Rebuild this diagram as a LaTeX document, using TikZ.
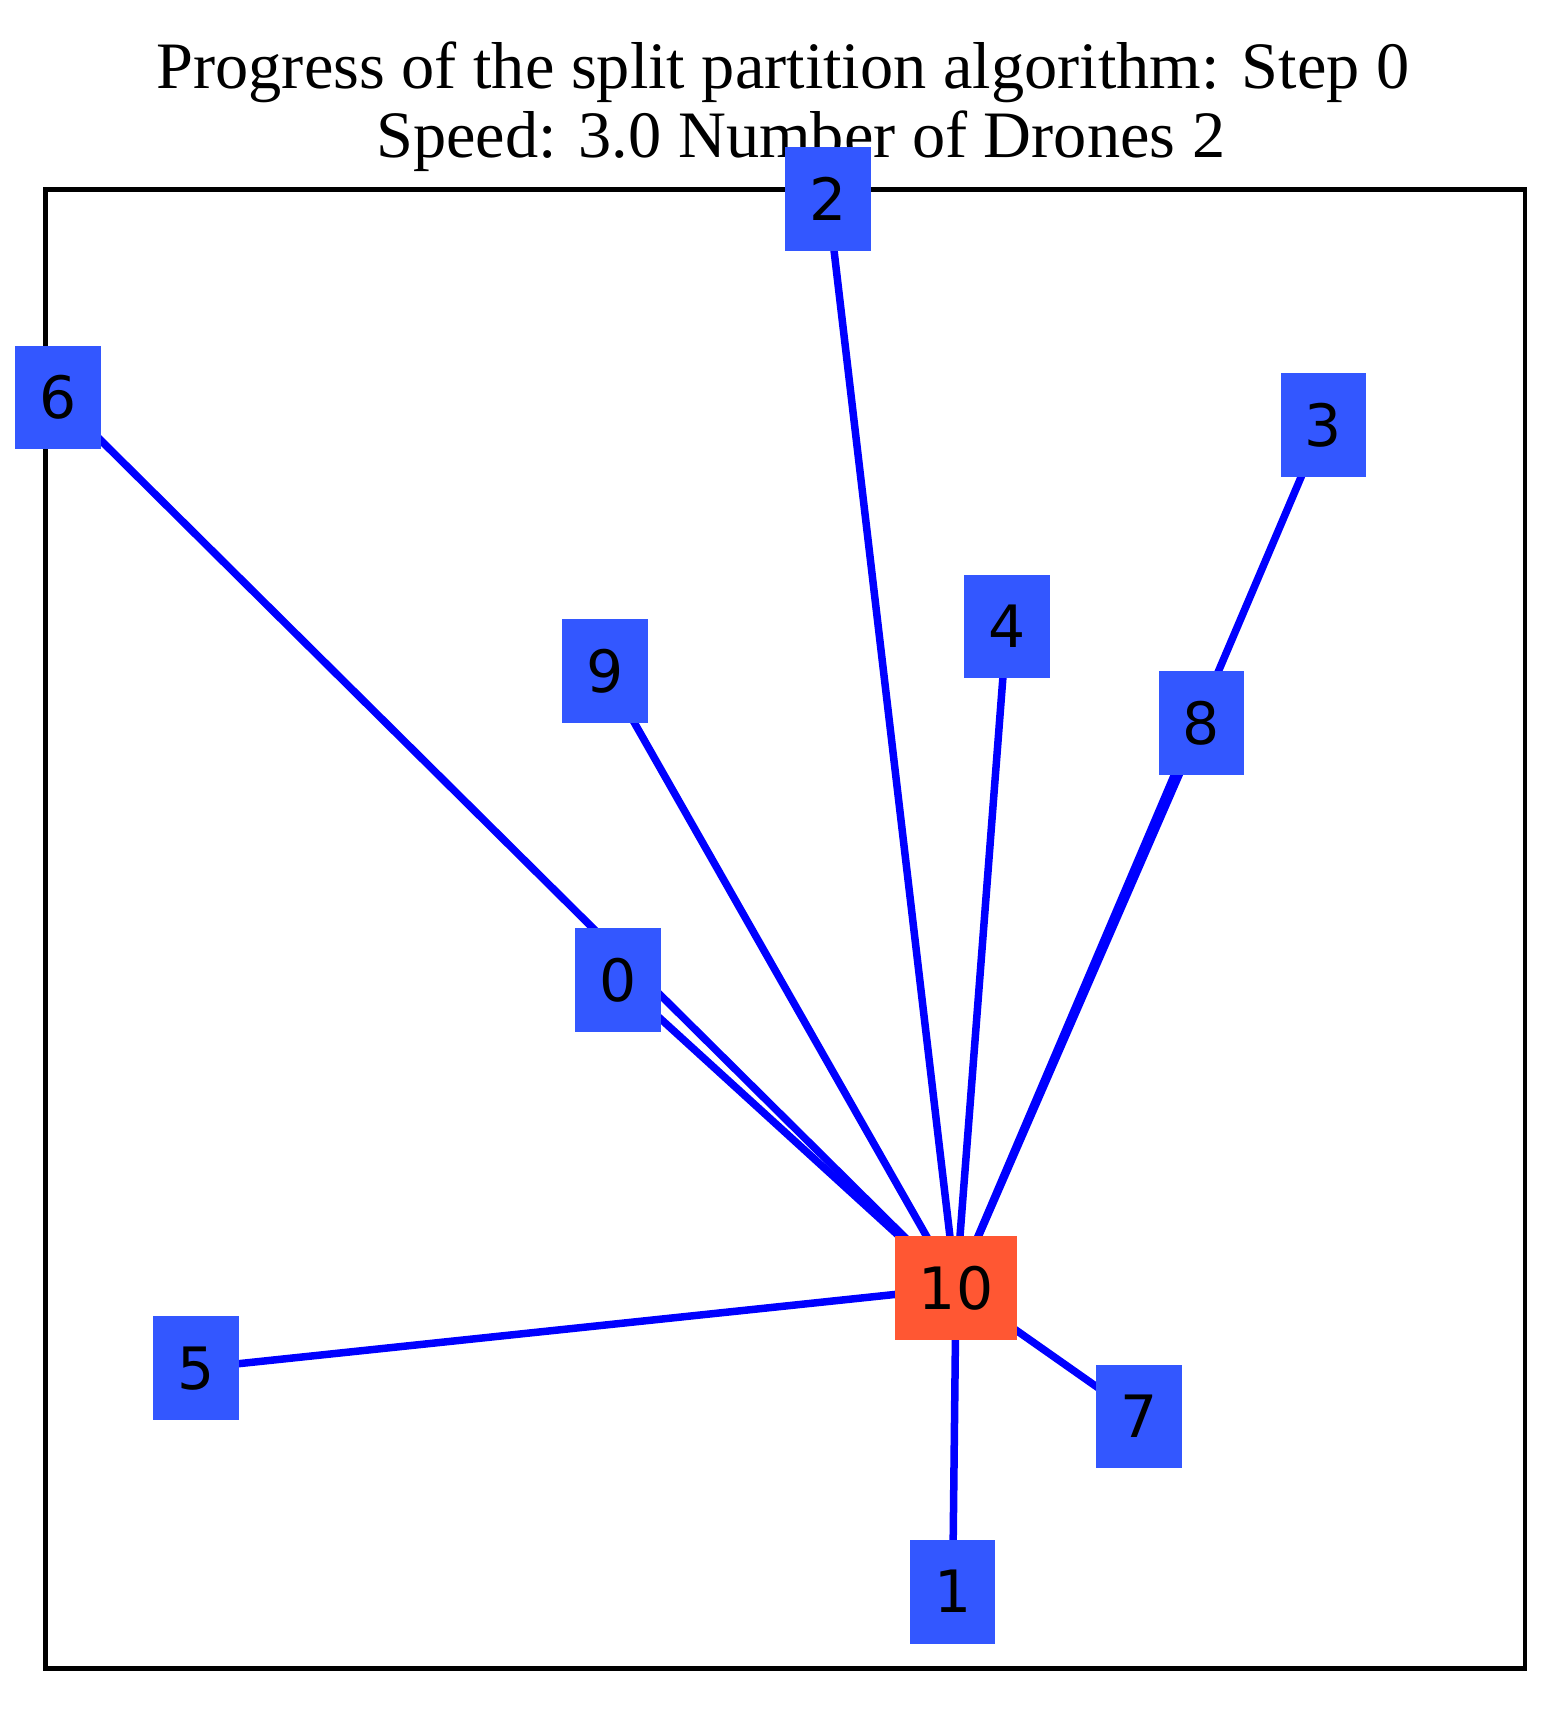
\documentclass[tikz,border=0pt]{standalone}
\usepackage{fontspec}
\setmainfont{Liberation Serif}
\newfontfamily\labelfont{DejaVu Sans}
\usepackage{tikz}
\usetikzlibrary{backgrounds}
\definecolor{droneblue}{RGB}{51,87,255}
\definecolor{depotred}{RGB}{255,87,51}
\definecolor{routeblue}{RGB}{0,0,255}
\tikzset{
    drone/.style={rectangle, fill=droneblue, inner sep=0pt,
                  minimum width=0.855cm, minimum height=1.035cm,
                  font=\labelfont\fontsize{16.6pt}{20pt}\selectfont},
    depot/.style={drone, fill=depotred, minimum width=1.21cm},
    route/.style={draw=routeblue, line width=0.075cm},
    frame/.style={draw=black, line width=0.042cm},
    titletext/.style={anchor=base, inner sep=0pt,
                      font=\fontsize{18.86pt}{22pt}\selectfont},
}

\begin{document}
\begin{tikzpicture}[x=0.01cm, y=-0.01cm]
    \useasboundingbox (0,0) rectangle (1567,1712);
    \node[titletext] (title1) at (783,88) {Progress of the split partition algorithm: Step 0};
    \node[titletext] (title2) at (800.7,157) {Speed: 3.0 Number of Drones 2};
    \foreach \id/\px/\py in {0/618/980, 1/952.6/1591.7, 2/828/199.2, 3/1323.3/424.8,
                             4/1006.8/626.7, 5/195.8/1368.2, 6/57.8/397.7,
                             7/1139/1416.5, 8/1201.5/723.2, 9/604.8/670.8} {
        \node[drone] (n\id) at (\px,\py) {\id};
    }
    \node[depot] (n10) at (956,1288) {10};
    \begin{scope}[on background layer]
        \draw[frame] (45.5,189.5) rectangle (1525,1668.5);
        \foreach \id in {0,...,9} {
            \draw[route] (n\id.center) -- (n10.center);
        }
    \end{scope}
\end{tikzpicture}
\end{document}
